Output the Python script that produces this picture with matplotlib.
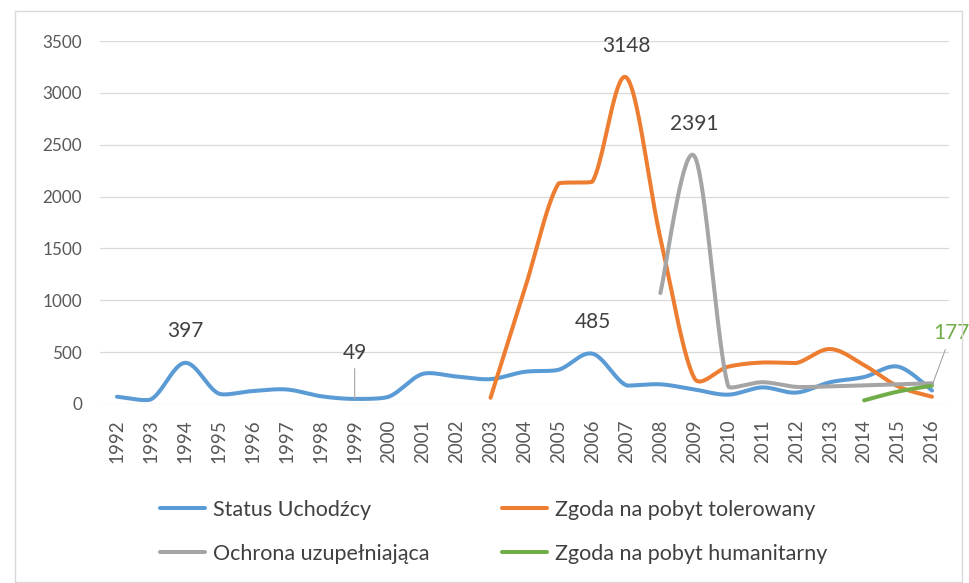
import numpy as np
import matplotlib
matplotlib.use("Agg")
import matplotlib.pyplot as plt
from matplotlib.patches import Rectangle

plt.rcParams['font.family'] = ['Lato', 'DejaVu Sans']

years = list(range(1992, 2017))
status = [70, 45, 397, 100, 125, 140, 75, 49, 70, 290, 265, 240, 310, 330, 485, 180, 190, 140, 90,
          160, 110, 210, 260, 360, 130]
tolerated_years = list(range(2003, 2017))
tolerated = [60, 1100, 2125, 2145, 3148, 1600, 250, 360, 400, 395, 530, 375, 170, 70]
subsidiary_years = list(range(2008, 2017))
subsidiary = [1070, 2391, 170, 210, 165, 170, 180, 190, 200]
humanitarian_years = [2014, 2015, 2016]
humanitarian = [35, 120, 177]

names = ["Status Uchodźcy", "Zgoda na pobyt tolerowany",
         "Ochrona uzupełniająca", "Zgoda na pobyt humanitarny"]
colors = ["#5B9BD5", "#ED7D31", "#A5A5A5", "#70AD47"]

# pixel scale of the plot area (used only to shape the smoothing like Excel)
PX_X = 849 / 25.0
PX_Y = 363 / 3500.0


def _clamp(a, d12, dy):
    la = np.linalg.norm(a)
    if la == 0:
        return a
    s = min(1.0, (d12 / 2) / la)
    if abs(a[1]) * s > abs(dy):
        s = abs(dy) / abs(a[1])
    return a * s


def smooth(xs, ys, n=40):
    P = np.column_stack([np.asarray(xs, float) * PX_X, np.asarray(ys, float) * PX_Y])
    out = []
    m = len(P)
    for i in range(m - 1):
        p0 = P[i - 1] if i > 0 else P[i]
        p1 = P[i]
        p2 = P[i + 1]
        p3 = P[i + 2] if i + 2 < m else P[i + 1]
        d12 = np.linalg.norm(p2 - p1)
        dy = p2[1] - p1[1]
        a1 = _clamp((p2 - p0) / 6.0, d12, dy)
        a2 = _clamp((p3 - p1) / 6.0, d12, dy)
        c1 = p1 + a1
        c2 = p2 - a2
        t = np.linspace(0, 1, n)[:, None]
        seg = ((1 - t) ** 3) * p1 + 3 * ((1 - t) ** 2) * t * c1 + 3 * (1 - t) * t ** 2 * c2 + t ** 3 * p2
        out.append(seg if i == 0 else seg[1:])
    s = np.vstack(out)
    return s[:, 0] / PX_X, s[:, 1] / PX_Y


fig = plt.figure(figsize=(9.7, 5.83), dpi=100)
fig.patches.append(Rectangle((15 / 970, 1 - 582 / 583), 947 / 970, 571 / 583,
                             transform=fig.transFigure, fill=False,
                             edgecolor="#D9D9D9", linewidth=1))
ax = fig.add_axes([100 / 970, 1 - 404 / 583, 849 / 970, 363 / 583])

series = [(years, status), (tolerated_years, tolerated),
          (subsidiary_years, subsidiary), (humanitarian_years, humanitarian)]
handles = []
for (xs, ys), c, nm in zip(series, colors, names):
    sx, sy = smooth(xs, ys)
    h, = ax.plot(sx, sy, color=c, lw=2.9, solid_capstyle='round', label=nm, zorder=3)
    handles.append(h)

ax.set_xlim(years[0] - 0.5, years[-1] + 0.5)
ax.set_ylim(0, 3500)
ax.set_yticks(range(0, 3501, 500))
ax.set_xticks(years)
ax.set_xticklabels([str(y) for y in years], rotation=90)
ax.grid(axis='y', color='#D9D9D9', lw=0.9)
ax.set_axisbelow(True)
for s in ax.spines.values():
    s.set_visible(False)
ax.tick_params(axis='both', length=0, colors='#595959')
ax.tick_params(axis='y', pad=13, labelsize=12.3)
ax.tick_params(axis='x', pad=11, labelsize=13.5)

lab_col = '#404040'
fs = 15
ax.annotate("397", (1994, 397), xytext=(0, 23), textcoords='offset points',
            ha='center', va='center', fontsize=fs, color=lab_col)
ax.annotate("485", (2006, 485), xytext=(0, 23), textcoords='offset points',
            ha='center', va='center', fontsize=fs, color=lab_col)
ax.annotate("3148", (2007, 3148), xytext=(0, 23), textcoords='offset points',
            ha='center', va='center', fontsize=fs, color=lab_col)
ax.annotate("2391", (2009, 2391), xytext=(0, 23), textcoords='offset points',
            ha='center', va='center', fontsize=fs, color=lab_col)
ax.annotate("49", (1999, 49), xytext=(0, 33), textcoords='offset points',
            ha='center', va='center', fontsize=fs, color=lab_col,
            arrowprops=dict(arrowstyle='-', color='#A5A5A5', lw=0.8, shrinkA=2, shrinkB=0))
ax.annotate("177", (2016, 177), xytext=(14, 38), textcoords='offset points',
            ha='center', va='center', fontsize=fs, color=colors[3],
            arrowprops=dict(arrowstyle='-', color='#A5A5A5', lw=0.8, shrinkA=3, shrinkB=0),
            annotation_clip=False)

order = [0, 2, 1, 3]
leg = fig.legend([handles[i] for i in order], [names[i] for i in order],
                 loc='upper left', bbox_to_anchor=(160 / 970, 1 - 500 / 583), ncol=2,
                 frameon=False, fontsize=15.5, handlelength=2.1, handletextpad=0.37,
                 columnspacing=3.35, labelspacing=1.1, borderpad=0, borderaxespad=0)
for t in leg.get_texts():
    t.set_color('#404040')

fig.savefig("out.png", dpi=100)
